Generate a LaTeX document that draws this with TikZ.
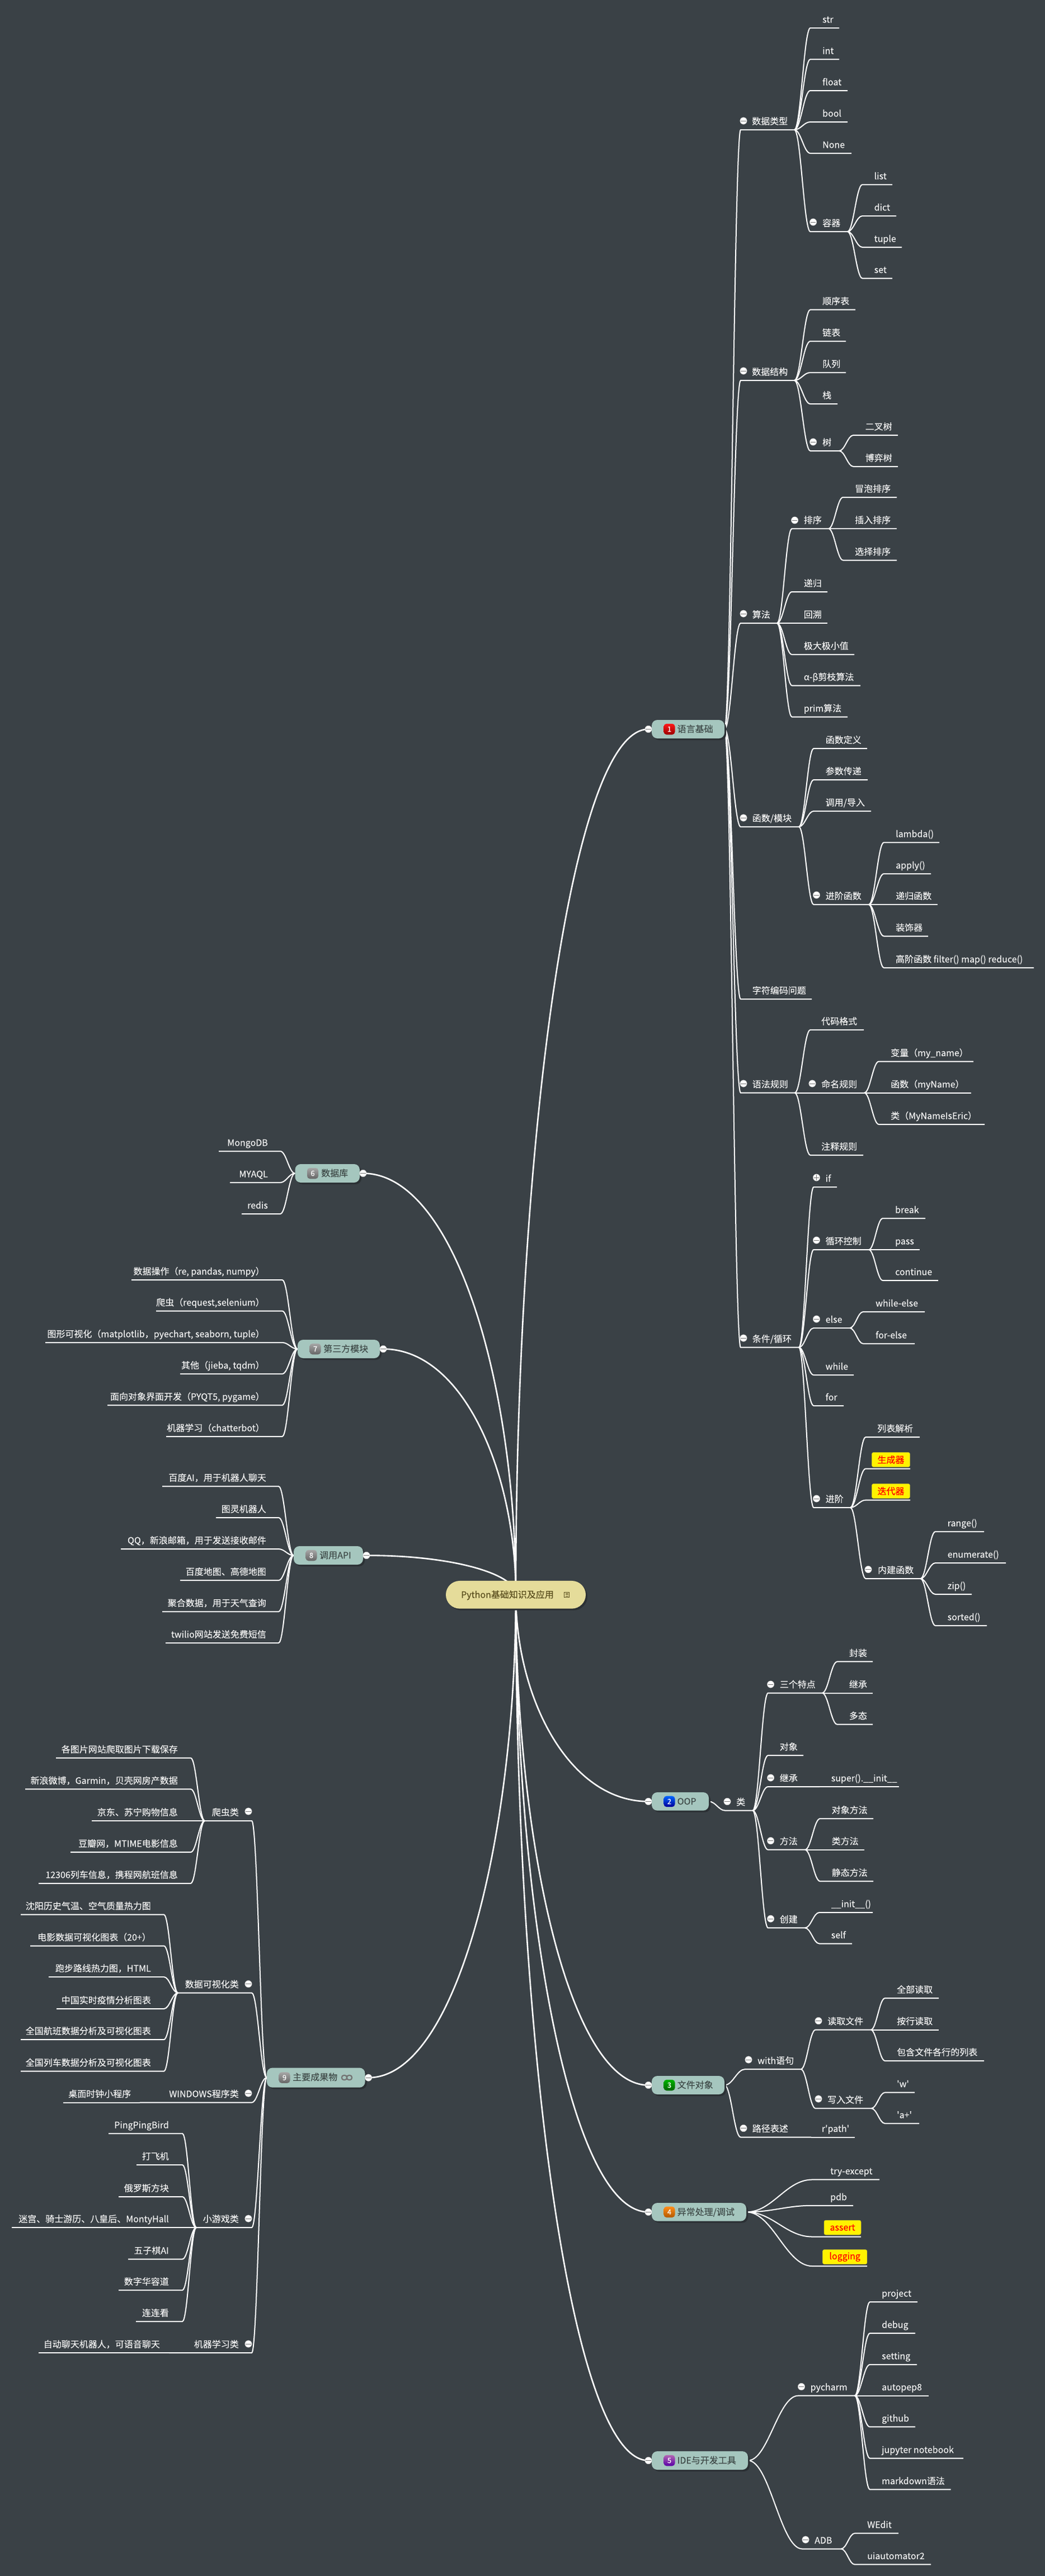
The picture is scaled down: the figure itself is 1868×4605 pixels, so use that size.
\documentclass[tikz,border=0pt]{standalone}
\usepackage{fontspec}
\setmainfont[Ligatures=TeXOff,FakeBold=0.12]{Noto Sans CJK SC}
\usetikzlibrary{calc,shadows}
\pgfdeclarelayer{lines}
\pgfsetlayers{lines,main}
\definecolor{bgc}{HTML}{3A4146}
\definecolor{topicc}{HTML}{A5C6BE}
\definecolor{topict}{HTML}{3F4A48}
\definecolor{rootc}{HTML}{E5DC9A}
\definecolor{roott}{HTML}{5A4E1E}
\definecolor{leafc}{HTML}{F2F2F2}
\definecolor{shadc}{HTML}{2B3034}
\tikzset{
  x=1pt,y=-1pt,
  conn/.style={draw=white,line width=2pt},
  topconn/.style={draw=white,line width=2.6pt},
  lbl/.style={inner sep=0pt,text=leafc,font=\fontsize{16}{19}\selectfont},
  topicbox/.style={rectangle,rounded corners=10pt,fill=topicc,inner sep=0pt,
    drop shadow={shadow xshift=3pt,shadow yshift=-3pt,fill=shadc,opacity=1}},
  rootbox/.style={rectangle,rounded corners=24.8pt,fill=rootc,inner sep=0pt,
    minimum width=250pt,minimum height=49.7pt,
    drop shadow={shadow xshift=3pt,shadow yshift=-3pt,fill=shadc,opacity=1}},
  toptext/.style={inner sep=0pt,text=topict,anchor=base west,font=\fontsize{16}{19}\selectfont},
  iconbox/.style={rectangle,rounded corners=5pt,inner sep=0pt,minimum width=20pt,minimum height=19.5pt,
    text=white,font=\fontsize{13}{13}\selectfont\itshape},
  cdot/.style={circle,fill=white,draw=black!30,line width=.4pt,inner sep=0pt,minimum size=12.5pt,text=black!55},
  yellowbox/.style={rectangle,rounded corners=3pt,fill=yellow,draw=yellow!75!black,line width=.5pt,
    inner sep=0pt,text=red,font=\fontsize{16}{19}\selectfont},
}
% connector from parent's end to a new item's line
\newcommand{\LN}[5]{%
  \coordinate (#1) at (#3,#5);\coordinate (#1-e) at (#4,#5);
  \begin{pgfonlayer}{lines}
  \draw[conn] let \p1=(#2-e),\p2=(#1) in (\p1)
    .. controls ({\x1+0.4*(\x2-\x1)},\y1) and ({\x1+0.6*(\x2-\x1)},\y2) .. (\p2) -- (#1-e);
  \end{pgfonlayer}}
\newcommand{\LR}[7]{\LN{#1}{#2}{#3}{#4}{#5}\node[lbl,anchor=base west] (#1-t) at (#6,{#5-9.5}) {#7};}
\newcommand{\LL}[7]{\LN{#1}{#2}{#3}{#4}{#5}\node[lbl,anchor=base east] (#1-t) at (#6,{#5-9.5}) {#7};}
\newcommand{\CM}[3]{\node[cdot] (#1-c) at ({#2},{#3}) {\rule[-.5pt]{9.5pt}{1pt}};}
\newcommand{\CP}[3]{\node[cdot] (#1-c) at ({#2},{#3}) {\makebox[0pt]{\rule[-.5pt]{9.5pt}{1pt}}\makebox[0pt]{\rule[-4.75pt]{1pt}{9.5pt}}};}
% topic: name, x1, x2, y1, y2, side (R/L), icon top colour, bottom colour, number
\newcommand{\TP}[9]{%
  \node[topicbox,minimum width={#3-#2},minimum height={#5-#4}] (#1) at ({(#2+#3)/2},{(#4+#5)/2}) {};
  \node[iconbox,top color=#7,bottom color=#8] (#1-i) at ({#2+31.5},{(#4+#5)/2}) {#9};
  \TPx{#1}{#2}{#3}{#4}{#5}{#6}}
\newcommand{\TPx}[6]{%
  \ifx R#6\relax
    \CM{#1}{#2-6}{(#4+#5)/2}\coordinate (#1-e) at (#1.east);
  \else
    \CM{#1}{#3+6}{(#4+#5)/2}\coordinate (#1-e) at (#1.west);
  \fi
  \begin{pgfonlayer}{lines}
  \draw[topconn] let \p1=(root),\p2=(#1-c) in (\p1)
    .. controls (\x1,{\y1+0.5*(\y2-\y1)}) and ({\x1+0.4*(\x2-\x1)},\y2) .. (\p2);
  \end{pgfonlayer}}
\begin{document}
\begin{tikzpicture}
\useasboundingbox (0,0) rectangle (1868,4605);
\begin{pgfonlayer}{lines}
\fill[bgc] (0,0) rectangle (1868,4605);
\end{pgfonlayer}
\coordinate (root) at (922,2850);
% ---------- 1 语言基础
\TP{t1}{1165}{1295}{1287}{1320}{R}{red!90!white}{red!60!black}{1}
\node[toptext] (t1-t) at (1210.5,1309) {语言基础};
\LR{a1}{t1}{1324}{1420}{232}{1344}{数据类型}\CM{a1}{1329}{216}
\LR{a11}{a1}{1448.5}{1500}{50}{1470}{str}
\LR{a12}{a1}{1448.5}{1500}{106}{1470}{int}
\LR{a13}{a1}{1448.5}{1515}{162}{1470}{float}
\LR{a14}{a1}{1448.5}{1515}{218}{1470}{bool}
\LR{a15}{a1}{1448.5}{1522}{274}{1470}{None}
\LR{a16}{a1}{1448.5}{1515}{414}{1470}{容器}\CM{a16}{1453.6}{397}
\LR{a161}{a16}{1541.5}{1595}{330}{1562.5}{list}
\LR{a162}{a16}{1541.5}{1602}{386}{1562.5}{dict}
\LR{a163}{a16}{1541.5}{1612}{442}{1562.5}{tuple}
\LR{a164}{a16}{1541.5}{1595}{497.5}{1562.5}{set}
\LR{a2}{t1}{1324}{1420}{680}{1344}{数据结构}\CM{a2}{1329}{663}
\LR{a21}{a2}{1448.5}{1529}{553.6}{1470}{顺序表}
\LR{a22}{a2}{1448.5}{1512}{610}{1470}{链表}
\LR{a23}{a2}{1448.5}{1512}{666}{1470}{队列}
\LR{a24}{a2}{1448.5}{1497}{722}{1470}{栈}
\LR{a25}{a2}{1448.5}{1500}{806}{1470}{树}\CM{a25}{1453.6}{790}
\LR{a251}{a25}{1525.5}{1605}{778}{1546.5}{二叉树}
\LR{a252}{a25}{1525.5}{1605}{834}{1546.5}{博弈树}
\LR{a3}{t1}{1324}{1389}{1114}{1344.6}{算法}\CM{a3}{1329}{1097}
\LR{a31}{a3}{1415.6}{1481}{945}{1436.6}{排序}\CM{a31}{1420.6}{930}
\LR{a311}{a31}{1507}{1603}{889}{1528}{冒泡排序}
\LR{a312}{a31}{1507}{1603}{945}{1528}{插入排序}
\LR{a313}{a31}{1507}{1603}{1001.5}{1528}{选择排序}
\LR{a32}{a3}{1415.6}{1479}{1058}{1436.6}{递归}
\LR{a33}{a3}{1415.6}{1479}{1114}{1436.6}{回溯}
\LR{a34}{a3}{1415.6}{1527}{1170}{1436.6}{极大极小值}
\LR{a35}{a3}{1415.6}{1538}{1225.5}{1436.6}{α-β剪枝算法}
\LR{a36}{a3}{1415.6}{1515}{1281.6}{1436.6}{prim算法}
\LR{a4}{t1}{1324}{1428}{1478}{1344.6}{函数/模块}\CM{a4}{1329}{1462}
\LR{a41}{a4}{1454.5}{1550}{1338}{1475.5}{函数定义}
\LR{a42}{a4}{1454.5}{1551}{1394}{1475.5}{参数传递}
\LR{a43}{a4}{1454.5}{1557}{1450}{1475.5}{调用/导入}
\LR{a44}{a4}{1454.5}{1553}{1617}{1475.5}{进阶函数}\CM{a44}{1459.5}{1600}
\LR{a441}{a44}{1580}{1679}{1506}{1601}{lambda()}
\LR{a442}{a44}{1580}{1664}{1562}{1601}{apply()}
\LR{a443}{a44}{1580}{1676}{1617}{1601}{递归函数}
\LR{a444}{a44}{1580}{1659}{1673.5}{1601}{装饰器}
\LR{a445}{a44}{1580}{1848}{1730}{1601}{高阶函数 filter() map() reduce()}
\LR{a5}{t1}{1324}{1451}{1786}{1344.6}{字符编码问题}
\LR{a6}{t1}{1324}{1420.6}{1953.6}{1344.6}{语法规则}\CM{a6}{1329}{1937}
\LR{a61}{a6}{1448.5}{1544}{1841}{1468}{代码格式}
\LR{a62}{a6}{1448.5}{1545}{1953.6}{1468}{命名规则}\CM{a62}{1452}{1937}
\LR{a621}{a62}{1571}{1740}{1897.5}{1592}{变量（my\_name）}
\LR{a622}{a62}{1571}{1736}{1953.6}{1592}{函数（myName）}
\LR{a623}{a62}{1571}{1760}{2010}{1592}{类（MyNameIsEric）}
\LR{a63}{a6}{1448.5}{1543}{2065}{1468}{注释规则}
\LR{a7}{t1}{1324}{1428}{2408.7}{1344.6}{条件/循环}\CM{a7}{1329}{2392}
\LR{a71}{a7}{1454.5}{1496}{2122}{1475.5}{if}\CP{a71}{1459.5}{2105}
\LR{a72}{a7}{1454.5}{1553}{2234}{1475.5}{循环控制}\CM{a72}{1459.5}{2217}
\LR{a721}{a72}{1578}{1654}{2178}{1600}{break}
\LR{a722}{a72}{1578}{1644}{2234}{1600}{pass}
\LR{a723}{a72}{1578}{1677}{2289}{1600}{continue}
\LR{a73}{a7}{1454.5}{1519}{2374}{1475.5}{else}\CM{a73}{1459.5}{2358}
\LR{a731}{a73}{1543}{1653}{2345}{1565}{while-else}
\LR{a732}{a73}{1543}{1635}{2402}{1565}{for-else}
\LR{a74}{a7}{1454.5}{1526}{2458}{1475.5}{while}
\LR{a75}{a7}{1454.5}{1508}{2513}{1475.5}{for}
\LR{a76}{a7}{1454.5}{1520}{2695}{1475.5}{进阶}\CM{a76}{1459.5}{2679}
\LR{a761}{a76}{1547.5}{1644}{2569}{1568}{列表解析}
\LN{a762}{a76}{1547.5}{1627}{2625.5}
\node[yellowbox,minimum width=68.2pt,minimum height=26pt] (a762-t) at (1592.5,2609.4) {生成器};
\LN{a763}{a76}{1547.5}{1627}{2681.6}
\node[yellowbox,minimum width=68.2pt,minimum height=26pt] (a763-t) at (1592.5,2665.5) {迭代器};
\LR{a764}{a76}{1547.5}{1645.4}{2822}{1569}{内建函数}\CM{a764}{1552}{2805.6}
\LR{a7641}{a764}{1672}{1759}{2738}{1693.5}{range()}
\LR{a7642}{a764}{1672}{1798}{2794}{1693.5}{enumerate()}
\LR{a7643}{a764}{1672}{1737}{2850}{1693.5}{zip()}
\LR{a7644}{a764}{1672}{1764}{2906}{1693.5}{sorted()}
% ---------- 2 OOP
\TP{t2}{1165}{1267}{3204}{3236.7}{R}{blue!60!cyan}{blue!60!black}{2}
\node[toptext] (t2-t) at (1210.5,3226) {OOP};
\LR{b}{t2}{1296.5}{1345.5}{3236.6}{1316}{类}\CM{b}{1300}{3220.5}
\LR{b1}{b}{1373}{1469.6}{3026.5}{1393.6}{三个特点}\CM{b1}{1377.6}{3011}
\LR{b11}{b1}{1496.6}{1560}{2970.4}{1517.7}{封装}
\LR{b12}{b1}{1496.6}{1560}{3026.5}{1517.7}{继承}
\LR{b13}{b1}{1496.6}{1560}{3082.6}{1517.7}{多态}
\LR{b2}{b}{1373}{1436}{3138}{1393.6}{对象}
\LR{b3}{b}{1373}{1465}{3194}{1393.6}{继承}\CM{b3}{1377.6}{3178}
\LR{b31}{b3}{1465}{1607}{3194}{1485.6}{super().\_\_init\_\_}
\LR{b4}{b}{1373}{1439}{3306.7}{1393.6}{方法}\CM{b4}{1377.6}{3290.6}
\LR{b41}{b4}{1466}{1561}{3251}{1486.5}{对象方法}
\LR{b42}{b4}{1466}{1545}{3306.7}{1486.5}{类方法}
\LR{b43}{b4}{1466}{1561}{3363}{1486.5}{静态方法}
\LR{b5}{b}{1373}{1439}{3446.4}{1393.6}{创建}\CM{b5}{1377.6}{3430}
\LR{b51}{b5}{1464.6}{1560}{3418.8}{1485.6}{\_\_init\_\_()}
\LR{b52}{b5}{1464.6}{1523}{3474.5}{1485.6}{self}
% ---------- 3 文件对象
\TP{t3}{1165}{1295}{3711}{3744}{R}{green!70!black}{green!40!black}{3}
\node[toptext] (t3-t) at (1210.5,3733) {文件对象};
\LR{c1}{t3}{1332}{1431.6}{3699}{1354}{with语句}\CM{c1}{1338}{3682}
\LR{c11}{c1}{1457.7}{1556.6}{3628.6}{1479}{读取文件}\CM{c11}{1463}{3612.5}
\LR{c111}{c11}{1582}{1678}{3572}{1603}{全部读取}
\LR{c112}{c11}{1582}{1678}{3628.6}{1603}{按行读取}
\LR{c113}{c11}{1582}{1759}{3684}{1603}{包含文件各行的列表}
\LR{c12}{c1}{1457.7}{1557.5}{3769}{1479}{写入文件}\CM{c12}{1463}{3752}
\LR{c121}{c12}{1582}{1635}{3740.6}{1603}{'w'}
\LR{c122}{c12}{1582}{1643}{3796}{1603}{'a+'}
\LR{c2}{t3}{1324}{1450}{3820.5}{1344.6}{路径表述}\CM{c2}{1329}{3804.5}
\LR{c21}{c2}{1450}{1528}{3820.5}{1468.7}{r'path'}
% ---------- 4 异常处理/调试
\TP{t4}{1165}{1334}{3938}{3970.6}{R}{orange!90!white}{orange!70!black}{4}
\node[toptext] (t4-t) at (1210.5,3960) {异常处理/调试};
\LR{d1}{t4}{1452}{1572}{3896.4}{1484}{try-except}
\LR{d2}{t4}{1452}{1525}{3942.7}{1484}{pdb}
\LN{d3}{t4}{1452}{1539}{3998.5}
\node[yellowbox,minimum width=66pt,minimum height=26pt] (d3-t) at (1506,3982) {assert};
\LN{d4}{t4}{1452}{1550}{4051}
\node[yellowbox,minimum width=79.5pt,minimum height=26pt] (d4-t) at (1510.2,4034.5) {logging};
% ---------- 5 IDE
\TP{t5}{1165}{1337}{4382}{4415}{R}{violet!60!white}{violet!70!blue}{5}
\node[toptext] (t5-t) at (1210.5,4404) {IDE与开发工具};
\LR{e1}{t5}{1427}{1528}{4282.6}{1448.5}{pycharm}\CM{e1}{1432.5}{4266.5}
\LR{e11}{e1}{1555}{1640}{4115}{1576}{project}
\LR{e12}{e1}{1555}{1636}{4171}{1576}{debug}
\LR{e13}{e1}{1555}{1639}{4227}{1576}{setting}
\LR{e14}{e1}{1555}{1660}{4282.6}{1576}{autopep8}
\LR{e15}{e1}{1555}{1636}{4338.4}{1576}{github}
\LR{e16}{e1}{1555}{1722}{4394.6}{1576}{jupyter notebook}
\LR{e17}{e1}{1555}{1699.5}{4450.4}{1576}{markdown语法}
\LR{e2}{t5}{1434}{1503.5}{4556.5}{1456}{ADB}\CM{e2}{1440}{4540}
\LR{e21}{e2}{1528}{1606}{4528.6}{1550}{WEdit}
\LR{e22}{e2}{1528}{1664}{4584.4}{1550}{uiautomator2}
% ---------- 6 数据库
\TP{t6}{527.5}{643}{2081}{2114}{L}{black!35}{black!60}{6}
\node[toptext] (t6-t) at (574,2103) {数据库};
\LL{f1}{t6}{501}{391}{2058}{479}{MongoDB}
\LL{f2}{t6}{501}{411}{2114}{479}{MYAQL}
\LL{f3}{t6}{501}{432}{2170}{479}{redis}
% ---------- 7 第三方模块
\TP{t7}{532}{679}{2395}{2428}{L}{black!35}{black!60}{7}
\node[toptext] (t7-t) at (578,2417) {第三方模块};
\LL{g1}{t7}{504.5}{235}{2288}{473}{数据操作（re, pandas, numpy）}
\LL{g2}{t7}{504.5}{279}{2343.6}{473}{爬虫（request,selenium）}
\LL{g3}{t7}{504.5}{81}{2400}{473}{图形可视化（matplotlib，pyechart, seaborn, tuple）}
\LL{g4}{t7}{504.5}{322}{2456}{473}{其他（jieba, tqdm）}
\LL{g5}{t7}{504.5}{192}{2512}{473}{面向对象界面开发（PYQT5, pygame）}
\LL{g6}{t7}{504.5}{297}{2568}{473}{机器学习（chatterbot）}
% ---------- 8 调用API
\TP{t8}{525}{649}{2764}{2797}{L}{black!35}{black!60}{8}
\node[toptext] (t8-t) at (571,2786) {调用API};
\LL{h1}{t8}{498}{290}{2657}{476}{百度AI，用于机器人聊天}
\LL{h2}{t8}{498}{386}{2713}{476}{图灵机器人}
\LL{h3}{t8}{498}{216}{2769}{476}{QQ，新浪邮箱，用于发送接收邮件}
\LL{h4}{t8}{498}{322}{2825}{476}{百度地图、高德地图}
\LL{h5}{t8}{498}{290}{2881}{476}{聚合数据，用于天气查询}
\LL{h6}{t8}{498}{296}{2937}{476}{twilio网站发送免费短信}
% ---------- 9 主要成果物
\TP{t9}{477}{652.6}{3696.5}{3731.7}{L}{black!35}{black!60}{9}
\node[toptext] (t9-t) at (523,3719) {主要成果物};
\draw[line width=2.2pt,black!55,rounded corners=3.5pt] (611,3710) rectangle (620,3718);
\draw[line width=2.2pt,black!55,rounded corners=3.5pt] (620,3710) rectangle (629,3718);
\LL{i1}{t9}{450}{366}{3255}{427}{爬虫类}\CM{i1}{444}{3238}
\LL{i11}{i1}{341}{100}{3142.6}{318}{各图片网站爬取图片下载保存}
\LL{i12}{i1}{341}{45}{3198.4}{318}{新浪微博，Garmin，贝壳网房产数据}
\LL{i13}{i1}{341}{164}{3255}{318}{京东、苏宁购物信息}
\LL{i14}{i1}{341}{126}{3311}{318}{豆瓣网，MTIME电影信息}
\LL{i15}{i1}{341}{69}{3366.8}{318}{12306列车信息，携程网航班信息}
\LL{i2}{t9}{450}{318}{3562.6}{427}{数据可视化类}\CM{i2}{444}{3546.6}
\LL{i21}{i2}{293}{37}{3422.6}{270}{沈阳历史气温、空气质量热力图}
\LL{i22}{i2}{293}{54}{3478.5}{270}{电影数据可视化图表（20+）}
\LL{i23}{i2}{293}{87}{3534}{270}{跑步路线热力图，HTML}
\LL{i24}{i2}{293}{101}{3591}{270}{中国实时疫情分析图表}
\LL{i25}{i2}{293}{37}{3646}{270}{全国航班数据分析及可视化图表}
\LL{i26}{i2}{293}{37}{3702.6}{270}{全国列车数据分析及可视化图表}
\LL{i3}{t9}{450}{250}{3758.5}{427}{WINDOWS程序类}\CM{i3}{444}{3742}
\LL{i31}{i3}{250}{113}{3758.5}{234.4}{桌面时钟小程序}
\LL{i4}{t9}{450}{351}{3982}{427}{小游戏类}\CM{i4}{444}{3966}
\LL{i41}{i4}{326}{194}{3814}{302}{PingPingBird}
\LL{i42}{i4}{326}{244}{3870}{302}{打飞机}
\LL{i43}{i4}{326}{212}{3927}{302}{俄罗斯方块}
\LL{i44}{i4}{326}{21}{3982}{302}{迷宫、骑士游历、八皇后、MontyHall}
\LL{i45}{i4}{326}{229}{4038.5}{302}{五子棋AI}
\LL{i46}{i4}{326}{212}{4094}{302}{数字华容道}
\LL{i47}{i4}{326}{243}{4150}{302}{连连看}
\LL{i5}{t9}{450}{302}{4206}{427}{机器学习类}\CM{i5}{444}{4190}
\LL{i51}{i5}{302}{69}{4206}{286}{自动聊天机器人，可语音聊天}
% ---------- root
\node[rootbox] (rootnode) at (922,2850.8) {};
\node[inner sep=0pt,text=roott,anchor=base west,font=\fontsize{16}{19}\selectfont] (root-t) at (824,2856.5) {Python基础知识及应用};
\draw[roott,line width=.9pt] (1008.5,2846) rectangle (1017.5,2855.5);
\draw[roott,line width=.7pt] (1010.5,2848.5) -- (1015.5,2848.5) (1010.5,2850.8) -- (1015.5,2850.8) (1010.5,2853) -- (1015.5,2853);
\end{tikzpicture}
\end{document}
